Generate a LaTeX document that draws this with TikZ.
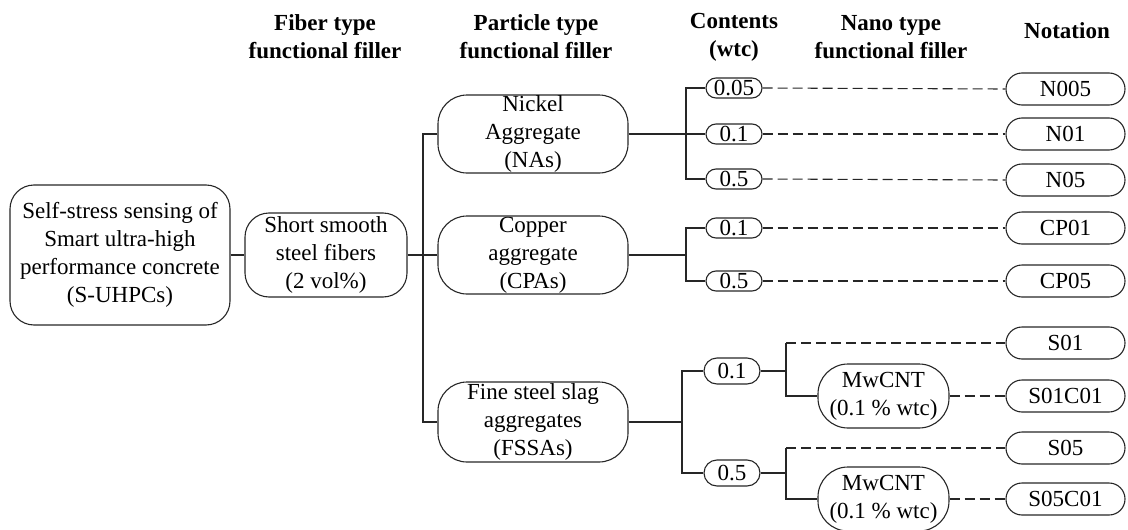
\documentclass[tikz,border=0pt]{standalone}
\usepackage{fontspec}
\setmainfont{Liberation Serif}
\begin{document}
\begin{tikzpicture}[x=1pt,y=-1pt,
  font=\fontsize{23}{28}\selectfont,
  line width=1.1pt, draw=black!85,
  box/.style={draw=black!85, line width=1.1pt, rounded corners=#1, align=center, inner sep=0pt},
  box/.default=20pt,
  hdr/.style={align=center, inner sep=0pt, font=\fontsize{23}{28}\selectfont\bfseries},
  conn/.style={draw=black!85, line width=1.1pt},
  dashln/.style={draw=black!85, line width=1.1pt, dash pattern=on 10pt off 5pt}]
\useasboundingbox (0,0) rectangle (1128,530);
% headers
\node[hdr] (h1) at (325,37) {Fiber type\\functional filler};
\node[hdr] (h2) at (536,37) {Particle type\\functional filler};
\node[hdr] (h3) at (734,37) {Contents\\(wtc)};
\node[hdr] (h4) at (891,37) {Nano type\\functional filler};
\node[hdr] (h5) at (1067,31) {Notation};
% main boxes
\node[box=24pt, minimum width=220pt, minimum height=140pt] (main) at (120,255) {Self-stress sensing of\\Smart ultra-high\\performance concrete\\(S-UHPCs)};
\node[box=24pt, minimum width=162pt, minimum height=84pt] (fiber) at (326,255) {Short smooth\\steel fibers\\(2 vol\%)};
\node[box=29pt, minimum width=190pt, minimum height=78pt] (na) at (533,134) {Nickel\\Aggregate\\(NAs)};
\node[box=29pt, minimum width=190pt, minimum height=78pt] (cpa) at (533,255) {Copper\\aggregate\\(CPAs)};
\node[box=29pt, minimum width=190pt, minimum height=80pt] (fssa) at (533,422) {Fine steel slag\\aggregates\\(FSSAs)};
% contents
\node[box=10pt, minimum width=56pt, minimum height=20pt] (c005) at (734,88) {0.05};
\node[box=10pt, minimum width=56pt, minimum height=20pt] (c01n) at (734,134) {0.1};
\node[box=10pt, minimum width=56pt, minimum height=20pt] (c05n) at (734,179) {0.5};
\node[box=10pt, minimum width=56pt, minimum height=20pt] (c01c) at (734,228) {0.1};
\node[box=10pt, minimum width=56pt, minimum height=20pt] (c05c) at (734,281) {0.5};
\node[box=13pt, minimum width=56pt, minimum height=26pt] (c01s) at (732,371) {0.1};
\node[box=13pt, minimum width=56pt, minimum height=26pt] (c05s) at (732,473) {0.5};
% nano
\node[box=30pt, minimum width=131pt, minimum height=64pt] (mw1) at (883.5,396) {MwCNT\\(0.1 \% wtc)};
\node[box=30pt, minimum width=131pt, minimum height=64pt] (mw2) at (883.5,499) {MwCNT\\(0.1 \% wtc)};
% notation
\node[box=16pt, minimum width=119pt, minimum height=32pt] (N005) at (1065.5,89) {N005};
\node[box=16pt, minimum width=119pt, minimum height=32pt] (N01) at (1065.5,134) {N01};
\node[box=16pt, minimum width=119pt, minimum height=32pt] (N05) at (1065.5,180) {N05};
\node[box=16pt, minimum width=119pt, minimum height=32pt] (CP01) at (1065.5,228) {CP01};
\node[box=16pt, minimum width=119pt, minimum height=32pt] (CP05) at (1065.5,281) {CP05};
\node[box=16pt, minimum width=119pt, minimum height=32pt] (S01) at (1065.5,343) {S01};
\node[box=16pt, minimum width=119pt, minimum height=32pt] (S01C01) at (1065.5,396) {S01C01};
\node[box=16pt, minimum width=119pt, minimum height=32pt] (S05) at (1065.5,448) {S05};
\node[box=16pt, minimum width=119pt, minimum height=32pt] (S05C01) at (1065.5,499) {S05C01};
% coordinates
\coordinate (t) at (423,255);
\coordinate (nv) at (686,134);
\coordinate (cv) at (686,255);
\coordinate (fv) at (682,422);
\coordinate (g1) at (786,371);
\coordinate (g1a) at (786,343);
\coordinate (g1b) at (786,396);
\coordinate (g2) at (786,473);
\coordinate (g2a) at (786,448);
\coordinate (g2b) at (786,499);
% solid connectors
\draw[conn] (main) -- (fiber);
\draw[conn] (fiber.east) -- (t) -- (cpa.west);
\draw[conn] (na.west) -| (t);
\draw[conn] (fssa.west) -| (t);
\draw[conn] (na.east) -- (nv) -- (c01n.west);
\draw[conn] (c005.west) -| (nv);
\draw[conn] (c05n.west) -| (nv);
\draw[conn] (cpa.east) -- (cv);
\draw[conn] (c01c.west) -| (cv);
\draw[conn] (c05c.west) -| (cv);
\draw[conn] (fssa.east) -- (fv);
\draw[conn] (c01s.west) -| (fv);
\draw[conn] (c05s.west) -| (fv);
\draw[conn] (c01s.east) -- (g1);
\draw[conn] (g1a) -- (g1b) -- (mw1.west);
\draw[conn] (c05s.east) -- (g2);
\draw[conn] (g2a) -- (g2b) -- (mw2.west);
% dashed connectors
\draw[dashln] (c005.east) -- (N005.west);
\draw[dashln] (c01n.east) -- (N01.west);
\draw[dashln] (c05n.east) -- (N05.west);
\draw[dashln] (c01c.east) -- (CP01.west);
\draw[dashln] (c05c.east) -- (CP05.west);
\draw[dashln] (g1a) -- (S01.west);
\draw[dashln] (mw1.east) -- (S01C01.west);
\draw[dashln] (g2a) -- (S05.west);
\draw[dashln] (mw2.east) -- (S05C01.west);
\end{tikzpicture}
\end{document}
